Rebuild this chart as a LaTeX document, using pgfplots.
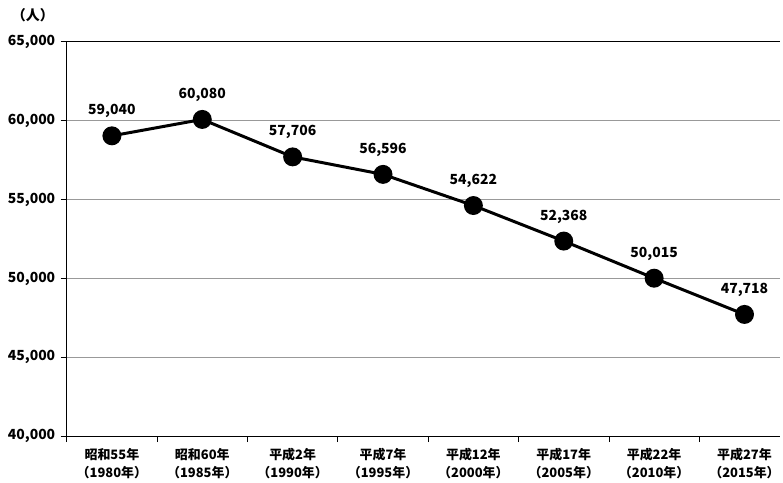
\documentclass[border=0pt]{standalone}
\usepackage{fontspec}
\setmainfont{Noto Sans CJK JP}
\usepackage{pgfplots}
\pgfplotsset{compat=1.18}
\begin{document}
\begin{tikzpicture}
\begin{axis}[
  at={(0pt,0pt)}, anchor=south west,
  scale only axis, width=716pt, height=396pt,
  xmin=-0.5, xmax=7.39, ymin=40000, ymax=65000,
  ytick={40000,45000,50000,55000,60000,65000},
  scaled y ticks=false,
  yticklabel={\pgfmathprintnumber[fixed,precision=0,1000 sep={,},assume math mode=true]{\tick}},
  ymajorgrids, grid style={gray!80, line width=1pt},
  axis x line*=bottom, axis y line*=left,
  axis line style={black, line width=1.2pt},
  xtick={-0.5,0.5,1.5,2.5,3.5,4.5,5.5,6.5},
  xticklabels={},
  x tick style={black, line width=0.8pt},
  extra x ticks={0,1,2,3,4,5,6,7},
  extra x tick labels={{昭和55年\\（1980年）},{昭和60年\\（1985年）},{平成2年\\（1990年）},{平成7年\\（1995年）},{平成12年\\（2000年）},{平成17年\\（2005年）},{平成22年\\（2010年）},{平成27年\\（2015年）}},
  extra x tick style={major tick length=0pt, xticklabel style={align=center, font=\fontsize{13}{17.5}\selectfont\bfseries, yshift=-9pt}},
  y tick style={black, line width=0.8pt}, tick align=outside, major tick length=6pt,
  yticklabel style={font=\fontsize{14}{14}\selectfont\bfseries, xshift=-2pt},
  clip=false,
]
\addplot[black, line width=3pt, mark=*, mark size=8pt,
  nodes near coords={\pgfmathprintnumber[fixed,precision=0,1000 sep={,},assume math mode=true]{\pgfplotspointmeta}},
  every node near coord/.append style={font=\fontsize{14}{14}\selectfont\bfseries, yshift=13pt}]
  coordinates {(0,59040)(1,60080)(2,57706)(3,56596)(4,54622)(5,52368)(6,50015)(7,47718)};
\draw[black, line width=1.2pt] (axis cs:-0.5,65000) -- (axis cs:7.39,65000);
\end{axis}
\node[font=\fontsize{14}{14}\selectfont\bfseries] at (-34pt,423pt) {（人）};
\path[use as bounding box] (-67pt,-44pt) rectangle (716pt,438pt);
\end{tikzpicture}
\end{document}
